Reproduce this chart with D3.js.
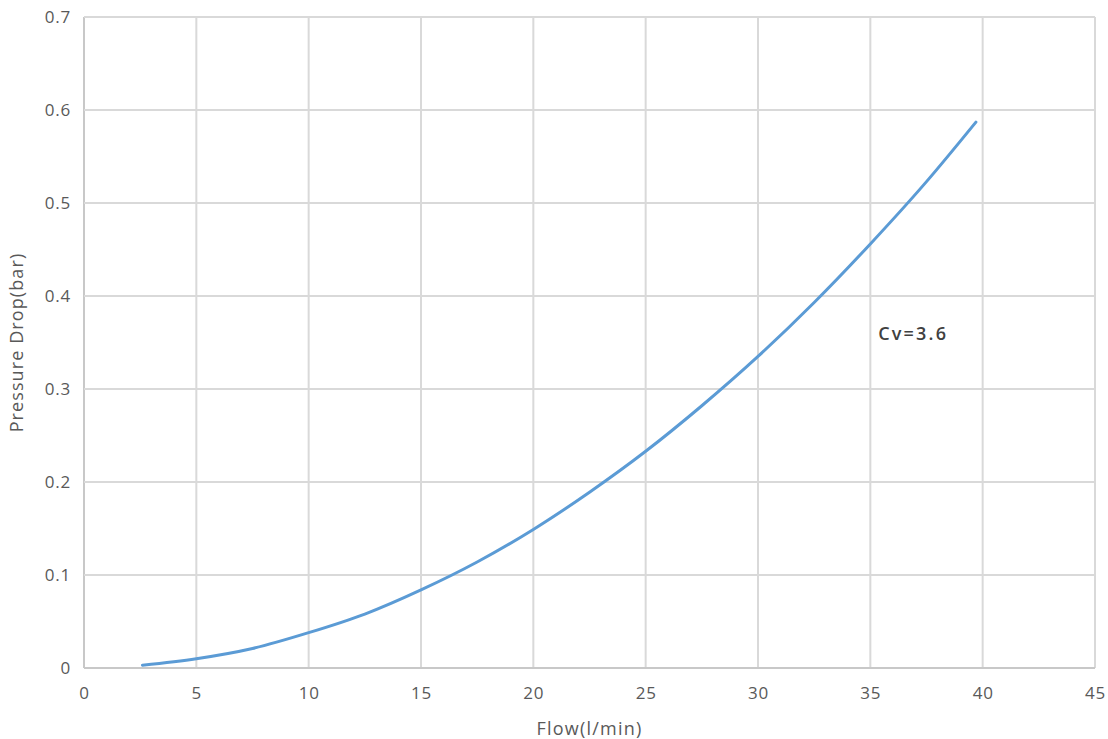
<!DOCTYPE html>
<html><head><meta charset="utf-8">
<script src="https://cdn.jsdelivr.net/npm/d3@7"></script>
<style>body{margin:0;background:#fff}</style>
</head><body>
<svg id="c" width="1108" height="739"></svg>
<script>
const flow = [2.6,5,7.5,10,12.5,15,17.5,20,22.5,25,27.5,30,32.5,35,37.5,39.7];
const drop = [0.003,0.010,0.021,0.038,0.058,0.084,0.114,0.149,0.189,0.233,0.282,0.335,0.393,0.456,0.523,0.587];
const xTicks = [0,5,10,15,20,25,30,35,40,45];
const yTicks = [0,0.1,0.2,0.3,0.4,0.5,0.6,0.7];
const label = "Cv=3.6";

const svg = d3.select("#c");
const m = {l:84, r:1095, t:17, b:668};
const x = d3.scaleLinear().domain([0,45]).range([m.l,m.r]);
const y = d3.scaleLinear().domain([0,0.7]).range([m.b,m.t]);
const font = "'Open Sans', sans-serif";

// grid
svg.append("g").selectAll("line").data(xTicks).join("line")
  .attr("x1",d=>x(d)).attr("x2",d=>x(d)).attr("y1",m.t).attr("y2",m.b)
  .attr("stroke",d=>d===0?"#c8c8c8":"#d9d9d9").attr("stroke-width",2);
svg.append("g").selectAll("line").data(yTicks).join("line")
  .attr("x1",m.l).attr("x2",m.r).attr("y1",d=>y(d)).attr("y2",d=>y(d))
  .attr("stroke",d=>d===0?"#c8c8c8":"#d9d9d9").attr("stroke-width",2);

// axes labels via d3 axes
const xa = svg.append("g").attr("transform",`translate(0,${m.b})`)
  .call(d3.axisBottom(x).tickValues(xTicks).tickSize(0).tickPadding(19).tickFormat(d3.format("d")));
const ya = svg.append("g").attr("transform",`translate(${m.l},0)`)
  .call(d3.axisLeft(y).tickValues(yTicks).tickSize(0).tickPadding(13).tickFormat(d=>d===0?"0":d3.format(".1f")(d)));
[xa,ya].forEach(g=>{g.select(".domain").remove();
  g.selectAll("text").attr("fill","#595959").style("font-family",font).style("font-size","17px").style("letter-spacing","0.8px");});

// line
svg.append("path").datum(flow.map((f,i)=>[f,drop[i]]))
  .attr("d",d3.line().x(d=>x(d[0])).y(d=>y(d[1])).curve(d3.curveMonotoneX))
  .attr("fill","none").attr("stroke","#5b9bd5").attr("stroke-width",3).attr("stroke-linecap","round");

// titles
svg.append("text").attr("x",(m.l+m.r)/2).attr("y",735).attr("text-anchor","middle")
  .attr("fill","#595959").style("font-family",font).style("font-size","18px").style("letter-spacing","1.2px").text("Flow(l/min)");
svg.append("text").attr("transform",`translate(23,${(m.t+m.b)/2}) rotate(-90)`).attr("text-anchor","middle")
  .attr("fill","#595959").style("font-family",font).style("font-size","18px").style("letter-spacing","1.1px").text("Pressure Drop(bar)");
svg.append("text").attr("x",x(35.35)).attr("y",y(0.36)+7)
  .attr("fill","#404040").style("font-family",font).style("font-size","18px").style("font-weight","600").style("letter-spacing","2.2px").text(label);
</script>
</body></html>
